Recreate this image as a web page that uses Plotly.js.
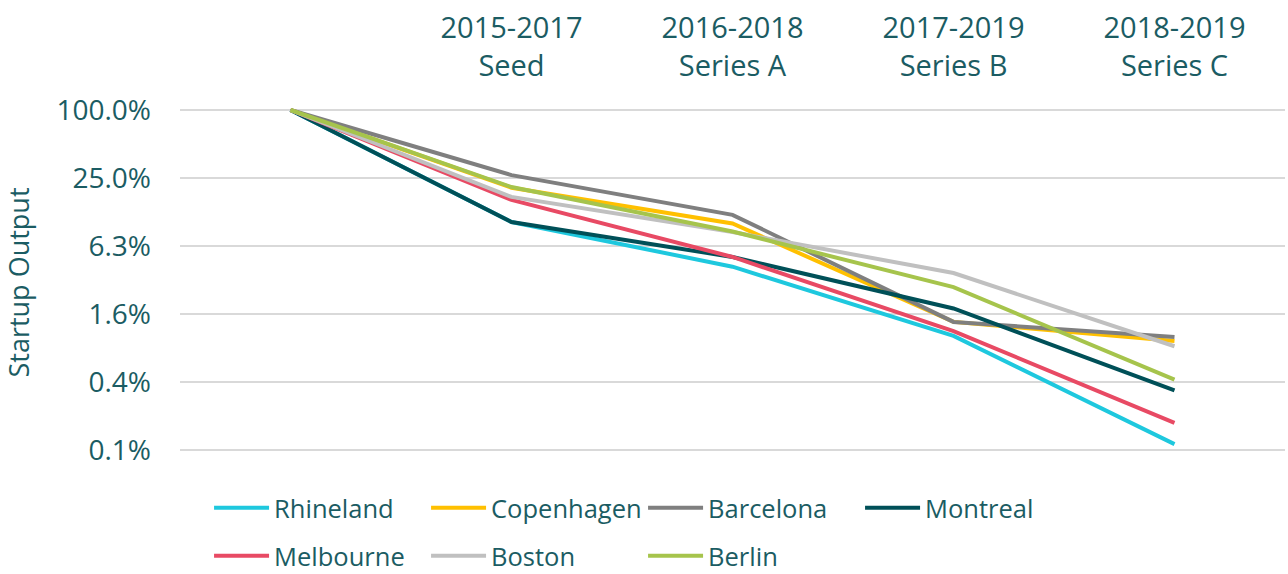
<!DOCTYPE html>
<html>
<head>
<meta charset="utf-8">
<script src="https://cdn.plot.ly/plotly-3.0.1.min.js"></script>
<style>html,body{margin:0;padding:0;background:#fff;} #chart{width:1288px;height:574px;}</style>
</head>
<body>
<div id="chart"></div>
<script>
var stages = ["Start", "2015-2017<br>Seed", "2016-2018<br>Series A", "2017-2019<br>Series B", "2018-2019<br>Series C"];
var stageLabels = ["", "2015-2017<br>Seed", "2016-2018<br>Series A", "2017-2019<br>Series B", "2018-2019<br>Series C"];

var rhineland  = [100, 10.2, 4.1, 1.0, 0.11];
var copenhagen = [100, 20.5, 9.9, 1.33, 0.90];
var barcelona  = [100, 26.5, 11.8, 1.33, 0.98];
var montreal   = [100, 10.2, 5.0, 1.75, 0.33];
var melbourne  = [100, 16.0, 5.0, 1.1, 0.17];
var boston     = [100, 17.0, 8.3, 3.6, 0.81];
var berlin     = [100, 20.8, 8.4, 2.7, 0.41];

var names  = ["Rhineland", "Copenhagen", "Barcelona", "Montreal", "Melbourne", "Boston", "Berlin"];
var series = [rhineland, copenhagen, barcelona, montreal, melbourne, boston, berlin];
var colors = ["#1ec8de", "#ffc000", "#7f7f7f", "#005058", "#e84a64", "#c0c0c0", "#a6c44c"];
var legendOf = ["legend", "legend", "legend", "legend", "legend2", "legend2", "legend2"];

var tickVals = [100, 25, 6.25, 1.5625, 0.390625, 0.09765625];
var tickText = ["100.0%", "25.0%", "6.3%", "1.6%", "0.4%", "0.1%"];

var textColor = "#1b5c63";
var fontFam = "'Open Sans', sans-serif";

var traces = names.map(function (n, i) {
  return {
    type: "scatter", mode: "lines", name: n,
    x: stages, y: series[i],
    line: {color: colors[i], width: 4},
    legend: legendOf[i],
    hoverinfo: "skip"
  };
});

var legendCommon = {
  orientation: "h", xanchor: "left", yanchor: "middle",
  entrywidth: 147, entrywidthmode: "pixels", itemwidth: 55,
  font: {family: fontFam, size: 25.5, color: textColor},
  bgcolor: "rgba(0,0,0,0)", tracegroupgap: 0
};

var layout = {
  width: 1288, height: 574,
  margin: {l: 180, r: 3, t: 100, b: 109, autoexpand: false},
  paper_bgcolor: "#fff", plot_bgcolor: "#fff",
  font: {family: fontFam, color: textColor},
  showlegend: true,
  legend: Object.assign({}, legendCommon, {x: 0.0263, y: -0.118}),
  legend2: Object.assign({}, legendCommon, {x: 0.0263, y: -0.25}),
  xaxis: {
    type: "category", side: "top", range: [-0.5, 4.5],
    tickvals: stages, ticktext: stageLabels,
    showgrid: false, zeroline: false, showline: false, ticks: "",
    ticklabelstandoff: 17,
    tickfont: {family: fontFam, size: 29, color: textColor}
  },
  yaxis: {
    type: "log", range: [-1.143, 2.0885],
    tickvals: tickVals, ticktext: tickText,
    showgrid: true, gridcolor: "#d9d9d9", gridwidth: 2,
    zeroline: false, showline: false, ticks: "",
    ticklabelstandoff: 28,
    tickfont: {family: fontFam, size: 28, color: textColor},
    title: {text: "Startup Output", font: {family: fontFam, size: 27, color: textColor}, standoff: 25}
  }
};

Plotly.newPlot("chart", traces, layout, {displayModeBar: false, staticPlot: true});
</script>
</body>
</html>
